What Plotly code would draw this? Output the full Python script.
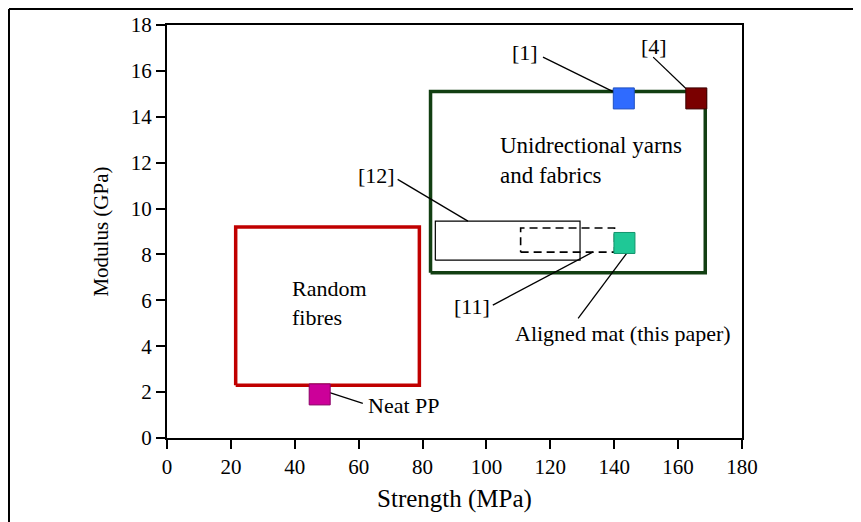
import plotly.graph_objects as go

# ranges drawn as boxes (MPa / GPa)
box_names = ["Random fibres", "Unidirectional yarns and fabrics", "[12]", "[11]"]
box_x0 = [21.5, 82.5, 84.0, 110.7]
box_x1 = [79.0, 168.5, 129.3, 140.1]
box_y0 = [2.3, 7.2, 7.75, 8.1]
box_y1 = [9.2, 15.1, 9.45, 9.15]

# single results
point_names = ["[1]", "[4]", "Aligned mat (this paper)", "Neat PP"]
point_strength = [143.0, 165.7, 143.2, 47.8]
point_modulus = [14.8, 14.8, 8.5, 1.9]

# labels and their leader lines
label_text = ["[1]", "[4]", "[12]", "[11]", "Aligned mat (this paper)", "Neat PP"]
label_x = [112.1, 152.5, 65.5, 95.6, 142.8, 74.1]
label_y = [16.79, 17.08, 11.46, 5.71, 4.55, 1.43]
leader_x0 = [117.7, 152.2, 72.2, 102.0, 128.7, 47.8]
leader_y0 = [16.6, 16.6, 11.27, 5.79, 5.21, 2.12]
leader_x1 = [142.5, 165.7, 94.2, 133.4, 145.3, 61.3]
leader_y1 = [14.9, 14.8, 9.45, 8.11, 8.31, 1.51]

x_ticks = list(range(0, 181, 20))
y_ticks = list(range(0, 19, 2))

FONT = "Liberation Serif"
box_style = [
    dict(color="#c00000", width=3.5, dash="solid"),
    dict(color="#123f12", width=3.5, dash="solid"),
    dict(color="black", width=1.2, dash="solid"),
    dict(color="black", width=1.6, dash="8px,5px"),
]
point_colors = ["#2f6bff", "#7a0000", "#1fc896", "#cc0099"]
point_edges = ["#1f4fc0", "#3a0000", "#12946c", "#8a0066"]

fig = go.Figure()

for i in range(len(box_names)):
    fig.add_trace(go.Scatter(
        x=[box_x0[i], box_x1[i], box_x1[i], box_x0[i], box_x0[i]],
        y=[box_y0[i], box_y0[i], box_y1[i], box_y1[i], box_y0[i]],
        mode="lines", line=box_style[i], name=box_names[i],
        hoverinfo="skip"
    ))

for i in range(len(label_text)):
    fig.add_trace(go.Scatter(
        x=[leader_x0[i], leader_x1[i]], y=[leader_y0[i], leader_y1[i]],
        mode="lines", line=dict(color="black", width=1.3),
        hoverinfo="skip"
    ))

fig.add_trace(go.Scatter(
    x=point_strength, y=point_modulus, mode="markers", text=point_names,
    marker=dict(symbol="square", size=21, color=point_colors,
                line=dict(color=point_edges, width=1)),
    hoverinfo="text"
))

for t, x, y in zip(label_text, label_x, label_y):
    fig.add_annotation(x=x, y=y, text=t, showarrow=False,
                       font=dict(family=FONT, size=22, color="black"))

fig.add_annotation(x=38.4, y=5.87, text="Random<br>fibres", showarrow=False,
                   xanchor="left", align="left",
                   font=dict(family=FONT, size=22, color="black"))
fig.add_annotation(x=103.6, y=12.11, text="Unidrectional yarns<br>and fabrics",
                   showarrow=False, xanchor="left", align="left",
                   font=dict(family=FONT, size=23, color="black"))

# outer frame of the figure image
fig.add_shape(type="line", xref="paper", yref="paper",
              x0=-0.2748, x1=-0.2748, y0=1.0387, y1=-0.25,
              line=dict(color="black", width=2))
fig.add_shape(type="line", xref="paper", yref="paper",
              x0=-0.2748, x1=1.25, y0=1.0387, y1=1.0387,
              line=dict(color="black", width=2))

axis_common = dict(
    showline=True, linecolor="black", linewidth=2, mirror=True,
    ticks="outside", ticklen=9, tickwidth=2, tickcolor="black",
    showgrid=False, zeroline=False, automargin=False,
    tickfont=dict(family=FONT, size=21, color="black"),
)

fig.update_layout(
    width=861, height=522,
    margin=dict(l=159, r=127, t=17, b=92),
    paper_bgcolor="white", plot_bgcolor="white",
    showlegend=False,
    xaxis=dict(range=[0, 180], tickvals=x_ticks, title=dict(
        text="Strength (MPa)", font=dict(family=FONT, size=25, color="black"),
        standoff=11), **axis_common),
    yaxis=dict(range=[0, 18], tickvals=y_ticks, title=dict(
        text="Modulus (GPa)", font=dict(family=FONT, size=21, color="black"),
        standoff=16), **axis_common),
)

fig.write_html("out.html")
